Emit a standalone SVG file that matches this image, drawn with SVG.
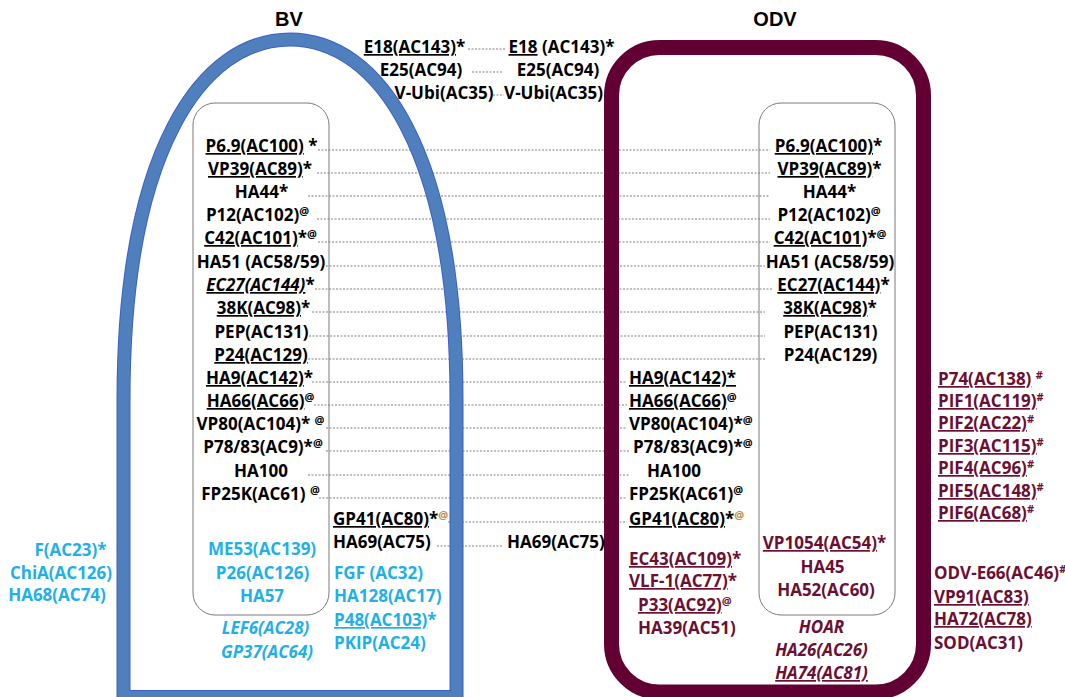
<svg xmlns="http://www.w3.org/2000/svg" width="1065" height="697" viewBox="0 0 1065 697">
<style>
text{font-family:"Open Sans","Liberation Sans",sans-serif;font-weight:bold;font-size:17px;fill:#000}
.c{text-anchor:middle}
.b{fill:#1fb0e8}
.m{fill:#6b0f33}
.u{text-decoration:underline}
.i{font-style:italic}
.s{font-size:11px}
.o{fill:#c08a45}
.title{font-family:"Liberation Sans",Arial,sans-serif;font-size:20px}
.box{fill:none;stroke:#7a7a7a;stroke-width:1}
#connectors line{stroke:#7f7f7f;stroke-width:1;stroke-dasharray:2 1.5}
</style>
<rect width="1065" height="697" fill="#fff"/>
<g id="connectors">
<line x1="468" y1="49" x2="505" y2="49"/>
<line x1="472" y1="72" x2="503" y2="72"/>
<line x1="493" y1="95" x2="504" y2="95"/>
<line x1="318" y1="150" x2="770" y2="150"/>
<line x1="317" y1="173" x2="770" y2="173"/>
<line x1="308" y1="196" x2="770" y2="196"/>
<line x1="317" y1="219" x2="770" y2="219"/>
<line x1="318" y1="242" x2="770" y2="242"/>
<line x1="326" y1="266" x2="765" y2="266"/>
<line x1="315" y1="289" x2="772" y2="289"/>
<line x1="312" y1="312" x2="765" y2="312"/>
<line x1="309" y1="336" x2="765" y2="336"/>
<line x1="308" y1="359" x2="765" y2="359"/>
<line x1="312" y1="382" x2="627" y2="382"/>
<line x1="314" y1="405" x2="627" y2="405"/>
<line x1="326" y1="428" x2="627" y2="428"/>
<line x1="326" y1="451" x2="630" y2="451"/>
<line x1="308" y1="475" x2="630" y2="475"/>
<line x1="319" y1="498" x2="627" y2="498"/>
<line x1="448" y1="522" x2="627" y2="522"/>
<line x1="437" y1="546" x2="503" y2="546"/>
</g>
<g id="BV">
<path d="M123.5,697 L123.5,400 C123.5,150 202,39.5 290,39.5 C378,39.5 456.5,150 456.5,400 L456.5,697 Z" fill="none" stroke="#3a60c6" stroke-width="14"/>
<path d="M123.5,697 L123.5,400 C123.5,150 202,39.5 290,39.5 C378,39.5 456.5,150 456.5,400 L456.5,697 Z" fill="none" stroke="#4f80bd" stroke-width="12"/>
<text class="title c" x="289" y="26">BV</text>
</g>
<g id="ODV">
<rect x="611.5" y="47.5" width="312" height="644.5" rx="48" fill="none" stroke="#630033" stroke-width="15"/>
<text class="title c" x="775" y="26">ODV</text>
</g>
<g id="top-shared">
<text class="c" x="414.5" y="53"><tspan class="u">E18(AC143)</tspan>*</text>
<text class="c" x="421" y="76">E25(AC94)</text>
<text class="c" x="444" y="99">V-Ubi(AC35)</text>
<text class="c" x="561.5" y="53"><tspan class="u">E18</tspan> (AC143)*</text>
<text class="c" x="558" y="76">E25(AC94)</text>
<text class="c" x="553.5" y="99">V-Ubi(AC35)</text>
</g>
<g id="BV-core">
<rect class="box" x="193" y="103" width="136" height="512" rx="22"/>
<text class="c" x="261.5" y="152"><tspan class="u">P6.9(AC100)</tspan> *</text>
<text class="c" x="260" y="175"><tspan class="u">VP39(AC89)</tspan>*</text>
<text class="c" x="261.5" y="198">HA44*</text>
<text class="c" x="257.5" y="221">P12(AC102)<tspan class="s" dy="-6">@</tspan></text>
<text class="c" x="260.5" y="244"><tspan class="u">C42(AC101)</tspan>*<tspan class="s" dy="-6">@</tspan></text>
<text class="c" x="261" y="268">HA51 (AC58/59)</text>
<text class="c" x="260.5" y="291"><tspan class="u i">EC27(AC144)</tspan>*</text>
<text class="c" x="263.5" y="314"><tspan class="u">38K(AC98)</tspan>*</text>
<text class="c" x="261.5" y="338">PEP(AC131)</text>
<text class="c" x="261" y="361"><tspan class="u">P24(AC129)</tspan></text>
<text class="c" x="259.5" y="384"><tspan class="u">HA9(AC142)</tspan>*</text>
<text class="c" x="260.5" y="407"><tspan class="u">HA66(AC66)</tspan><tspan class="s" dy="-6">@</tspan></text>
<text class="c" x="260.5" y="430">VP80(AC104)* <tspan class="s" dy="-6">@</tspan></text>
<text class="c" x="263" y="453">P78/83(AC9)*<tspan class="s" dy="-6">@</tspan></text>
<text class="c" x="261" y="477">HA100</text>
<text class="c" x="260.5" y="500">FP25K(AC61) <tspan class="s" dy="-6">@</tspan></text>
<text class="c b" x="262" y="555">ME53(AC139)</text>
<text class="c b" x="262.5" y="579">P26(AC126)</text>
<text class="c b" x="262" y="602">HA57</text>
</g>
<g id="BV-envelope">
<text x="333" y="525"><tspan class="u">GP41(AC80)</tspan>*<tspan class="s o" dy="-6">@</tspan></text>
<text x="333" y="548">HA69(AC75)</text>
<text class="b" x="334" y="579">FGF (AC32)</text>
<text class="b" x="334" y="602">HA128(AC17)</text>
<text class="b" x="334" y="626"><tspan class="u">P48(AC103)</tspan>*</text>
<text class="b" x="334" y="649">PKIP(AC24)</text>
<text class="c b i" x="265.5" y="634">LEF6(AC28)</text>
<text class="c b i" x="267" y="658">GP37(AC64)</text>
</g>
<g id="BV-outside">
<text class="c b" x="70.5" y="556">F(AC23)*</text>
<text class="c b" x="61" y="579">ChiA(AC126)</text>
<text class="c b" x="57" y="601">HA68(AC74)</text>
</g>
<g id="ODV-core">
<rect class="box" x="759" y="103" width="136" height="512" rx="22"/>
<text class="c" x="828.5" y="152"><tspan class="u">P6.9(AC100)</tspan>*</text>
<text class="c" x="829.5" y="175"><tspan class="u">VP39(AC89)</tspan>*</text>
<text class="c" x="829.5" y="198">HA44*</text>
<text class="c" x="829" y="221">P12(AC102)<tspan class="s" dy="-6">@</tspan></text>
<text class="c" x="830" y="244"><tspan class="u">C42(AC101)</tspan>*<tspan class="s" dy="-6">@</tspan></text>
<text class="c" x="830" y="268">HA51 (AC58/59)</text>
<text class="c" x="833.5" y="291"><tspan class="u">EC27(AC144)</tspan>*</text>
<text class="c" x="830" y="314"><tspan class="u">38K(AC98)</tspan>*</text>
<text class="c" x="830.5" y="338">PEP(AC131)</text>
<text class="c" x="830.5" y="361">P24(AC129)</text>
<text class="c m" x="824.5" y="549"><tspan class="u">VP1054(AC54)</tspan>*</text>
<text class="c m" x="822.5" y="573">HA45</text>
<text class="c m" x="826" y="596">HA52(AC60)</text>
</g>
<g id="ODV-envelope">
<text x="629" y="384"><tspan class="u">HA9(AC142)*</tspan></text>
<text x="629" y="407"><tspan class="u">HA66(AC66)</tspan><tspan class="s" dy="-6">@</tspan></text>
<text x="629" y="430">VP80(AC104)*<tspan class="s" dy="-6">@</tspan></text>
<text x="633" y="453">P78/83(AC9)*<tspan class="s" dy="-6">@</tspan></text>
<text x="647" y="477">HA100</text>
<text x="629" y="500">FP25K(AC61)<tspan class="s" dy="-6">@</tspan></text>
<text x="629" y="525"><tspan class="u">GP41(AC80)</tspan>*<tspan class="s o" dy="-6">@</tspan></text>
<text class="m" x="629" y="565"><tspan class="u">EC43(AC109)</tspan>*</text>
<text class="m" x="629" y="587"><tspan class="u">VLF-1(AC77)</tspan>*</text>
<text class="m" x="638" y="611"><tspan class="u">P33(AC92)</tspan><tspan class="s" dy="-6">@</tspan></text>
<text class="m" x="638" y="634">HA39(AC51)</text>
<text class="c m i" x="821.5" y="633">HOAR</text>
<text class="c m i" x="821.5" y="656">HA26(AC26)</text>
<text class="c m i u" x="821.5" y="679">HA74(AC81)</text>
</g>
<g id="ODV-outside">
<text x="507" y="548">HA69(AC75)</text>
<text class="m" x="938" y="385"><tspan class="u">P74(AC138)</tspan> <tspan class="s" dy="-6">#</tspan></text>
<text class="m" x="938" y="407"><tspan class="u">PIF1(AC119)</tspan><tspan class="s" dy="-6">#</tspan></text>
<text class="m" x="938" y="429"><tspan class="u">PIF2(AC22)</tspan><tspan class="s" dy="-6">#</tspan></text>
<text class="m" x="938" y="452"><tspan class="u">PIF3(AC115)</tspan><tspan class="s" dy="-6">#</tspan></text>
<text class="m" x="938" y="474"><tspan class="u">PIF4(AC96)</tspan><tspan class="s" dy="-6">#</tspan></text>
<text class="m" x="938" y="497"><tspan class="u">PIF5(AC148)</tspan><tspan class="s" dy="-6">#</tspan></text>
<text class="m" x="938" y="519"><tspan class="u">PIF6(AC68)</tspan><tspan class="s" dy="-6">#</tspan></text>
<text class="m" x="934" y="579">ODV-E66(AC46)<tspan class="s" dy="-6">#</tspan></text>
<text class="m" x="934" y="603"><tspan class="u">VP91(AC83)</tspan></text>
<text class="m" x="934" y="625"><tspan class="u">HA72(AC78)</tspan></text>
<text class="m" x="934" y="649">SOD(AC31)</text>
</g>
</svg>
